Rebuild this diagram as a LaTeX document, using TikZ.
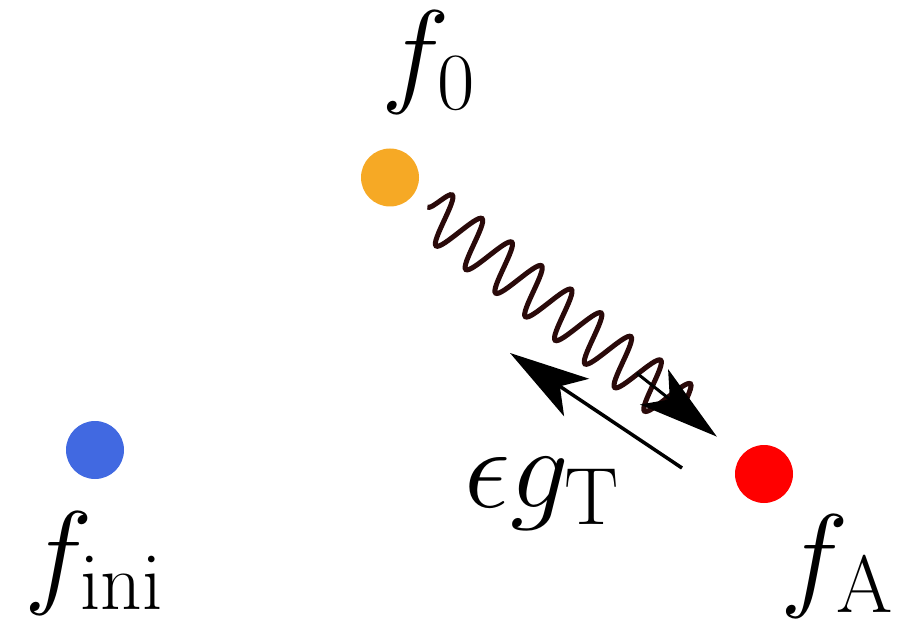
\RequirePackage{fix-cm}
\documentclass[tikz,border=0pt]{standalone}
\usepackage{xcolor}
\definecolor{dotorange}{HTML}{F6A925}
\definecolor{dotblue}{HTML}{4169E1}
\definecolor{dotred}{HTML}{FF0000}
\definecolor{wavebrown}{HTML}{2A0A0A}
\usepackage{tikz}
\usetikzlibrary{arrows.meta, calc, decorations.pathmorphing}

\begin{document}
\begin{tikzpicture}[every node/.style={font=\fontsize{66}{76}\selectfont, inner sep=0pt},
  dot/.style={circle, minimum size=1.16cm},
  bigtip/.style={-{Stealth[length=1.6cm, width=0.9cm, inset=0.4cm, black]}}]
  \useasboundingbox (0,0) rectangle (18.1,-12.48);

  % Dots
  \node[dot, fill=dotorange] (dotzero) at (7.8,-3.55) {};
  \node[dot, fill=dotblue] (dotini) at (1.9,-9.0) {};
  \node[dot, fill=dotred] (dotA) at (15.28,-9.48) {};

  % Labels
  \node[anchor=base] (labzero) at (8.58,-1.84) {$f_0$};
  \node[anchor=base] (labini) at (1.88,-11.84) {$f_{\mathrm{ini}}$};
  \node[anchor=base] (labA) at (16.74,-11.9) {$f_{\mathrm{A}}$};
  \node[anchor=base] (labeps) at (10.84,-10.14) {$\epsilon g_{\mathrm{T}}$};

  % Wavy arrow f_0 -> f_A
  \coordinate (wstart) at ($(dotzero)!0.1!(dotA)$);
  \coordinate (wstop) at ($(dotzero)!0.8!(dotA)$);
  \coordinate (wtail) at ($(dotzero)!0.66!(dotA)$);
  \coordinate (wend) at ($(dotzero)!0.874!(dotA)$);
  \draw[wavebrown, line width=0.1cm, decorate,
    decoration={snake, amplitude=0.5cm, segment length=0.76cm}]
    (wstart) -- (wstop);
  \draw[line width=0.06cm, bigtip] (wtail) -- (wend);

  % Straight arrow back
  \coordinate (gstart) at (13.64,-9.36);
  \coordinate (gend) at (10.2,-7.06);
  \draw[line width=0.07cm, bigtip] (gstart) -- (gend);
\end{tikzpicture}
\end{document}
